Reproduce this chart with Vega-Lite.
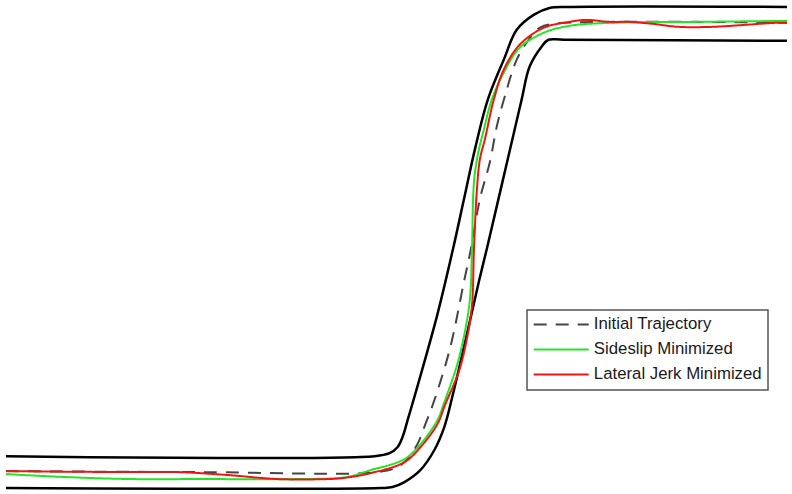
{
  "$schema": "https://vega.github.io/schema/vega-lite/v6.json",
  "width": 792,
  "height": 494,
  "autosize": {"type": "fit", "contains": "padding"},
  "padding": 0,
  "background": "white",
  "config": {"view": {"stroke": null}},
  "datasets": {
    "road": [
      {"edge": "b1", "i": 1, "x": 6, "y": 35},
      {"edge": "b1", "i": 2, "x": 377, "y": 35},
      {"edge": "b1", "i": 3, "x": 392, "y": 38},
      {"edge": "b1", "i": 4, "x": 400, "y": 44},
      {"edge": "b1", "i": 5, "x": 405, "y": 54},
      {"edge": "b1", "i": 6, "x": 411, "y": 74},
      {"edge": "b1", "i": 7, "x": 418, "y": 98},
      {"edge": "b1", "i": 8, "x": 440, "y": 177},
      {"edge": "b1", "i": 9, "x": 456, "y": 244},
      {"edge": "b1", "i": 10, "x": 467, "y": 294},
      {"edge": "b1", "i": 11, "x": 478, "y": 344},
      {"edge": "b1", "i": 12, "x": 491, "y": 394},
      {"edge": "b1", "i": 13, "x": 507, "y": 434},
      {"edge": "b1", "i": 14, "x": 520, "y": 464},
      {"edge": "b1", "i": 15, "x": 537, "y": 479},
      {"edge": "b1", "i": 16, "x": 553, "y": 486},
      {"edge": "b1", "i": 17, "x": 575, "y": 487},
      {"edge": "b1", "i": 18, "x": 792, "y": 487},
      {"edge": "b2", "i": 1, "x": 6, "y": 3},
      {"edge": "b2", "i": 2, "x": 383, "y": 3},
      {"edge": "b2", "i": 3, "x": 395, "y": 4},
      {"edge": "b2", "i": 4, "x": 407, "y": 9},
      {"edge": "b2", "i": 5, "x": 423, "y": 21},
      {"edge": "b2", "i": 6, "x": 437, "y": 41},
      {"edge": "b2", "i": 7, "x": 447, "y": 64},
      {"edge": "b2", "i": 8, "x": 455, "y": 94},
      {"edge": "b2", "i": 9, "x": 469, "y": 154},
      {"edge": "b2", "i": 10, "x": 482, "y": 211},
      {"edge": "b2", "i": 11, "x": 490, "y": 244},
      {"edge": "b2", "i": 12, "x": 504, "y": 304},
      {"edge": "b2", "i": 13, "x": 518, "y": 364},
      {"edge": "b2", "i": 14, "x": 525, "y": 394},
      {"edge": "b2", "i": 15, "x": 533, "y": 427},
      {"edge": "b2", "i": 16, "x": 545, "y": 447},
      {"edge": "b2", "i": 17, "x": 552, "y": 454},
      {"edge": "b2", "i": 18, "x": 567, "y": 454},
      {"edge": "b2", "i": 19, "x": 792, "y": 453}
    ],
    "traj": [
      {"s": "Initial Trajectory", "i": 1, "x": 6, "y": 20},
      {"s": "Initial Trajectory", "i": 2, "x": 200, "y": 19},
      {"s": "Initial Trajectory", "i": 3, "x": 380, "y": 19},
      {"s": "Initial Trajectory", "i": 4, "x": 400, "y": 24},
      {"s": "Initial Trajectory", "i": 5, "x": 410, "y": 32},
      {"s": "Initial Trajectory", "i": 6, "x": 420, "y": 47},
      {"s": "Initial Trajectory", "i": 7, "x": 428, "y": 67},
      {"s": "Initial Trajectory", "i": 8, "x": 437, "y": 91},
      {"s": "Initial Trajectory", "i": 9, "x": 453, "y": 144},
      {"s": "Initial Trajectory", "i": 10, "x": 467, "y": 211},
      {"s": "Initial Trajectory", "i": 11, "x": 474, "y": 244},
      {"s": "Initial Trajectory", "i": 12, "x": 483, "y": 294},
      {"s": "Initial Trajectory", "i": 13, "x": 493, "y": 331},
      {"s": "Initial Trajectory", "i": 14, "x": 500, "y": 367},
      {"s": "Initial Trajectory", "i": 15, "x": 508, "y": 397},
      {"s": "Initial Trajectory", "i": 16, "x": 520, "y": 434},
      {"s": "Initial Trajectory", "i": 17, "x": 532, "y": 454},
      {"s": "Initial Trajectory", "i": 18, "x": 543, "y": 466},
      {"s": "Initial Trajectory", "i": 19, "x": 557, "y": 470},
      {"s": "Initial Trajectory", "i": 20, "x": 792, "y": 471},
      {"s": "Sideslip Minimized", "i": 1, "x": 6, "y": 17},
      {"s": "Sideslip Minimized", "i": 2, "x": 67, "y": 14},
      {"s": "Sideslip Minimized", "i": 3, "x": 133, "y": 12},
      {"s": "Sideslip Minimized", "i": 4, "x": 200, "y": 12},
      {"s": "Sideslip Minimized", "i": 5, "x": 300, "y": 12},
      {"s": "Sideslip Minimized", "i": 6, "x": 340, "y": 13},
      {"s": "Sideslip Minimized", "i": 7, "x": 353, "y": 15},
      {"s": "Sideslip Minimized", "i": 8, "x": 373, "y": 21},
      {"s": "Sideslip Minimized", "i": 9, "x": 407, "y": 32},
      {"s": "Sideslip Minimized", "i": 10, "x": 423, "y": 47},
      {"s": "Sideslip Minimized", "i": 11, "x": 440, "y": 71},
      {"s": "Sideslip Minimized", "i": 12, "x": 447, "y": 89},
      {"s": "Sideslip Minimized", "i": 13, "x": 460, "y": 127},
      {"s": "Sideslip Minimized", "i": 14, "x": 468, "y": 161},
      {"s": "Sideslip Minimized", "i": 15, "x": 473, "y": 194},
      {"s": "Sideslip Minimized", "i": 16, "x": 475, "y": 244},
      {"s": "Sideslip Minimized", "i": 17, "x": 477, "y": 311},
      {"s": "Sideslip Minimized", "i": 18, "x": 481, "y": 339},
      {"s": "Sideslip Minimized", "i": 19, "x": 487, "y": 364},
      {"s": "Sideslip Minimized", "i": 20, "x": 495, "y": 394},
      {"s": "Sideslip Minimized", "i": 21, "x": 507, "y": 421},
      {"s": "Sideslip Minimized", "i": 22, "x": 523, "y": 446},
      {"s": "Sideslip Minimized", "i": 23, "x": 547, "y": 461},
      {"s": "Sideslip Minimized", "i": 24, "x": 573, "y": 468},
      {"s": "Sideslip Minimized", "i": 25, "x": 613, "y": 471},
      {"s": "Sideslip Minimized", "i": 26, "x": 700, "y": 472},
      {"s": "Sideslip Minimized", "i": 27, "x": 792, "y": 473},
      {"s": "Lateral Jerk Minimized", "i": 1, "x": 6, "y": 20},
      {"s": "Lateral Jerk Minimized", "i": 2, "x": 130, "y": 19},
      {"s": "Lateral Jerk Minimized", "i": 3, "x": 180, "y": 19},
      {"s": "Lateral Jerk Minimized", "i": 4, "x": 230, "y": 16},
      {"s": "Lateral Jerk Minimized", "i": 5, "x": 280, "y": 12},
      {"s": "Lateral Jerk Minimized", "i": 6, "x": 330, "y": 12},
      {"s": "Lateral Jerk Minimized", "i": 7, "x": 345, "y": 13},
      {"s": "Lateral Jerk Minimized", "i": 8, "x": 373, "y": 18},
      {"s": "Lateral Jerk Minimized", "i": 9, "x": 407, "y": 29},
      {"s": "Lateral Jerk Minimized", "i": 10, "x": 423, "y": 44},
      {"s": "Lateral Jerk Minimized", "i": 11, "x": 440, "y": 67},
      {"s": "Lateral Jerk Minimized", "i": 12, "x": 448, "y": 87},
      {"s": "Lateral Jerk Minimized", "i": 13, "x": 462, "y": 121},
      {"s": "Lateral Jerk Minimized", "i": 14, "x": 470, "y": 154},
      {"s": "Lateral Jerk Minimized", "i": 15, "x": 475, "y": 187},
      {"s": "Lateral Jerk Minimized", "i": 16, "x": 477, "y": 244},
      {"s": "Lateral Jerk Minimized", "i": 17, "x": 480, "y": 304},
      {"s": "Lateral Jerk Minimized", "i": 18, "x": 483, "y": 334},
      {"s": "Lateral Jerk Minimized", "i": 19, "x": 488, "y": 354},
      {"s": "Lateral Jerk Minimized", "i": 20, "x": 497, "y": 394},
      {"s": "Lateral Jerk Minimized", "i": 21, "x": 507, "y": 424},
      {"s": "Lateral Jerk Minimized", "i": 22, "x": 523, "y": 449},
      {"s": "Lateral Jerk Minimized", "i": 23, "x": 547, "y": 466},
      {"s": "Lateral Jerk Minimized", "i": 24, "x": 573, "y": 472},
      {"s": "Lateral Jerk Minimized", "i": 25, "x": 590, "y": 474},
      {"s": "Lateral Jerk Minimized", "i": 26, "x": 613, "y": 472},
      {"s": "Lateral Jerk Minimized", "i": 27, "x": 633, "y": 472},
      {"s": "Lateral Jerk Minimized", "i": 28, "x": 657, "y": 470},
      {"s": "Lateral Jerk Minimized", "i": 29, "x": 683, "y": 467},
      {"s": "Lateral Jerk Minimized", "i": 30, "x": 717, "y": 467},
      {"s": "Lateral Jerk Minimized", "i": 31, "x": 750, "y": 469},
      {"s": "Lateral Jerk Minimized", "i": 32, "x": 780, "y": 471},
      {"s": "Lateral Jerk Minimized", "i": 33, "x": 792, "y": 471}
    ]
  },
  "layer": [
    {
      "data": {"name": "road"},
      "mark": {"type": "line", "color": "black", "strokeWidth": 2.5, "interpolate": "catmull-rom"},
      "encoding": {
        "x": {"field": "x", "type": "quantitative", "scale": {"domain": [0, 792], "nice": false, "zero": false}, "axis": null},
        "y": {"field": "y", "type": "quantitative", "scale": {"domain": [0, 494], "nice": false, "zero": false}, "axis": null},
        "detail": {"field": "edge", "type": "nominal"},
        "order": {"field": "i", "type": "quantitative"}
      }
    },
    {
      "data": {"name": "traj"},
      "mark": {"type": "line", "strokeWidth": 2, "interpolate": "catmull-rom"},
      "encoding": {
        "x": {"field": "x", "type": "quantitative"},
        "y": {"field": "y", "type": "quantitative"},
        "order": {"field": "i", "type": "quantitative"},
        "color": {
          "field": "s",
          "type": "nominal",
          "scale": {
            "domain": ["Initial Trajectory", "Sideslip Minimized", "Lateral Jerk Minimized"],
            "range": ["#444444", "#22e622", "#f01414"]
          },
          "legend": {
            "title": null,
            "orient": "none",
            "legendX": 527,
            "legendY": 310,
            "symbolType": "M-1.4,0H8.6",
            "symbolSize": 121,
            "symbolStrokeWidth": 2,
            "labelFont": "Liberation Sans",
            "labelFontSize": 16.8,
            "labelColor": "#1a1a1a",
            "labelLimit": 300,
            "labelOffset": 44,
            "rowPadding": 7,
            "padding": 6,
            "strokeColor": "#555555",
            "fillColor": "white",
            "encode": {
              "legend": {
                "update": {"strokeWidth": {"value": 1.5}}
              },
              "symbols": {
                "update": {
                  "stroke": {"signal": "datum.value === 'Initial Trajectory' ? '#8a8a8a' : scale('color', datum.value)"}
                }
              }
            }
          }
        },
        "strokeDash": {
          "field": "s",
          "type": "nominal",
          "scale": {
            "domain": ["Initial Trajectory", "Sideslip Minimized", "Lateral Jerk Minimized"],
            "range": [[13, 9], [1, 0], [1, 0]]
          },
          "legend": null
        }
      }
    }
  ]
}
